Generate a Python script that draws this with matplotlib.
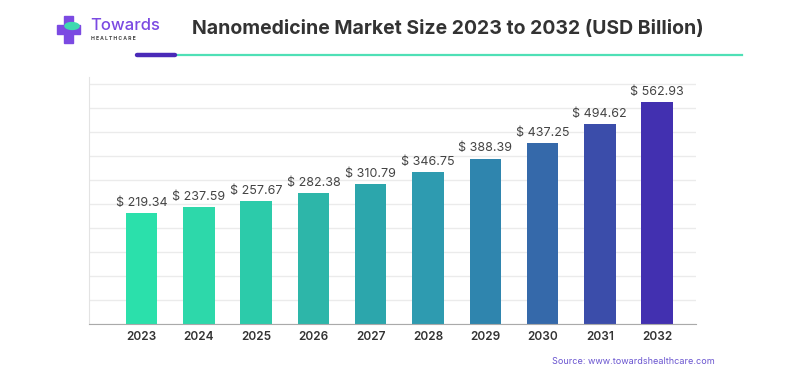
import matplotlib

matplotlib.use("Agg")

import matplotlib.pyplot as plt
import numpy as np
from matplotlib.patches import Rectangle, Ellipse

years = ["2023", "2024", "2025", "2026", "2027", "2028", "2029", "2030", "2031", "2032"]
market_size = [219.34, 237.59, 257.67, 282.38, 310.79, 346.75, 388.39, 437.25, 494.62, 562.93]
bar_colors = [
    "#2BE0AB", "#2DD8AA", "#2CCBAA", "#2DB6A9", "#2CA6AC",
    "#2E9BB0", "#2F85AE", "#3569AA", "#3B4DAA", "#4230B0",
]

title = "Nanomedicine Market Size 2023 to 2032 (USD Billion)"
source = "Source: www.towardshealthcare.com"

plt.rcParams["font.family"] = ["Inter", "DejaVu Sans"]

fig = plt.figure(figsize=(8, 3.87), dpi=100)
W, H = 800, 387

# plot area in pixels: left 89, right 696, baseline 324, top 77
ax = fig.add_axes([89 / W, 1 - 324 / H, (696 - 89) / W, (324 - 77) / H])

# the source chart's value axis does not start at zero
y_floor = -122
x = np.arange(len(years))
heights = [v - y_floor for v in market_size]
ax.bar(x, heights, bottom=y_floor, width=0.55, color=bar_colors, zorder=3)

ax.set_xlim(-0.92, 9.68)
ax.set_ylim(y_floor, 640)
ax.set_yticks(np.linspace(y_floor, 618, 11))
ax.set_yticklabels([])
ax.tick_params(axis="y", length=0)
ax.grid(axis="y", color="#EBEBEB", linewidth=1, zorder=0)

ax.set_xticks(x)
ax.set_xticklabels(years, fontsize=8.5, color="#333333", fontweight="semibold")
ax.tick_params(axis="x", length=0, pad=5)

for side in ("top", "right"):
    ax.spines[side].set_visible(False)
ax.spines["left"].set_color("#E3E3E3")
ax.spines["bottom"].set_color("#AAAAAA")
ax.spines["bottom"].set_zorder(4)

for xi, v in zip(x, market_size):
    ax.annotate(f"$ {v:.2f}", (xi, v), xytext=(0, 3), textcoords="offset points",
                ha="center", va="bottom", fontsize=9, color="#444444")

# title and decorative underline
fig.text(448 / W, 1 - 29 / H, title, ha="center", va="center",
         fontsize=14, fontweight="bold", color="#333333")
fig.add_artist(plt.Line2D([175 / W, 742 / W], [1 - 55 / H] * 2,
                          color="#4FE0B6", linewidth=1.6))
fig.add_artist(plt.Line2D([137 / W, 175 / W], [1 - 55 / H] * 2,
                          color="#4A2AB8", linewidth=3.2, solid_capstyle="round"))

# logo
logo_purple = "#7B4AE2"
fig.add_artist(Rectangle((57 / W, 1 - 34 / H), 23 / W, 9 / H,
                         color=logo_purple, transform=fig.transFigure))
fig.add_artist(Rectangle((64 / W, 1 - 43 / H), 9 / W, 27 / H,
                         color=logo_purple, transform=fig.transFigure))
fig.add_artist(Ellipse((72 / W, 1 - 26 / H), 14 / W, 7 / H, angle=45,
                       color="#3ED9B0", transform=fig.transFigure))
fig.text(90 / W, 1 - 25 / H, "Towards", ha="left", va="center",
         fontsize=12, color=logo_purple, fontweight="medium")
fig.text(91 / W, 1 - 38.5 / H, "H E A L T H C A R E", ha="left", va="center",
         fontsize=3.6, color="#444444", fontweight="bold")

fig.text(633 / W, 1 - 361 / H, source, ha="center", va="center",
         fontsize=6.5, color="#6A55D0")

fig.savefig("out.png", dpi=100)
plt.close(fig)
